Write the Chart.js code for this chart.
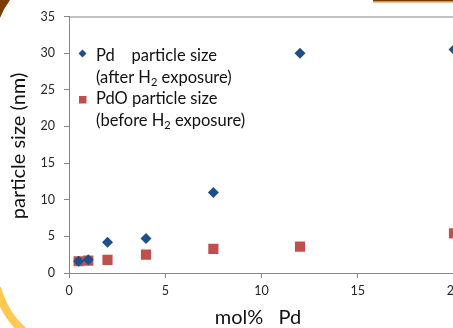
<!DOCTYPE html>
<html><head><meta charset="utf-8">
<script src="https://cdn.jsdelivr.net/npm/chart.js@4"></script>
<style>html,body{margin:0;padding:0;overflow:hidden;background:#fff;width:453px;height:328px}canvas{display:block}</style>
</head><body>
<canvas id="c" width="480" height="328" style="width:480px;height:328px"></canvas>
<script>
const pdX = [0.5, 1, 2, 4, 7.5, 12, 20];
const pdY = [1.6, 1.8, 4.2, 4.7, 11.0, 30.0, 30.5];
const pdoX = [0.5, 1, 2, 4, 7.5, 12, 20];
const pdoY = [1.6, 1.7, 1.8, 2.5, 3.3, 3.6, 5.4];
const xTicks = [0, 5, 10, 15, 20];
const yTicks = [0, 5, 10, 15, 20, 25, 30, 35];
const legendLines = [
  ['Pd    particle size', '(after H', '2', ' exposure)'],
  ['PdO particle size', '(before H', '2', ' exposure)']
];
const xTitle = 'mol%   Pd';
const yTitle = 'particle size (nm)';

const FONT = 'Lato, "Open Sans", sans-serif';
const BLUE = '#1F4E89', RED = '#C0504D', AXIS = '#868686';

const deco = {
  id: 'deco',
  beforeDraw(chart) {
    const c = chart.ctx;
    c.save();
    c.fillStyle = '#7A3E05';
    c.beginPath(); c.moveTo(0, 0); c.lineTo(10, 0); c.quadraticCurveTo(4, 8, 0, 18); c.closePath(); c.fill();
    c.fillRect(373, 0, 110, 1.5);
    c.fillStyle = '#D98A2E'; c.fillRect(373, 1.5, 110, 1);
    c.strokeStyle = '#FFC850'; c.lineWidth = 8;
    c.beginPath(); c.moveTo(-3, 288); c.quadraticCurveTo(6, 318, 26, 333); c.stroke();
    c.restore();
  },
  afterDraw(chart) {
    const c = chart.ctx, a = chart.chartArea;
    c.save();
    c.strokeStyle = AXIS; c.lineWidth = 1;
    c.beginPath(); c.moveTo(a.left, a.top + 0.5); c.lineTo(chart.width, a.top + 0.5); c.stroke();
    c.fillStyle = '#111';
    c.textBaseline = 'alphabetic';
    const fs = 16.5;
    const drawLine = (parts, x, y) => {
      c.font = fs + 'px ' + FONT;
      if (parts.length === 1) { c.fillText(parts[0], x, y); return; }
      c.fillText(parts[0], x, y);
      let w = c.measureText(parts[0]).width;
      c.font = Math.round(fs * 0.65) + 'px ' + FONT;
      c.fillText(parts[1], x + w, y + 3);
      w += c.measureText(parts[1]).width;
      c.font = fs + 'px ' + FONT;
      c.fillText(parts[2], x + w, y);
    };
    const tx = 96;
    drawLine([legendLines[0][0]], tx, 61);
    drawLine([legendLines[0][1], legendLines[0][2], legendLines[0][3]], tx, 83);
    drawLine([legendLines[1][0]], tx, 104);
    drawLine([legendLines[1][1], legendLines[1][2], legendLines[1][3]], tx, 126);
    c.fillStyle = BLUE;
    c.beginPath(); c.moveTo(82.5, 49.5); c.lineTo(86.5, 53.5); c.lineTo(82.5, 57.5); c.lineTo(78.5, 53.5); c.closePath(); c.fill();
    c.fillStyle = RED; c.fillRect(79, 96, 7.5, 7.5);
    c.fillStyle = '#111';
    c.font = '20px ' + FONT;
    c.textAlign = 'center';
    c.fillText(xTitle, 258, 324);
    c.translate(25, 146); c.rotate(-Math.PI / 2);
    c.fillText(yTitle, 0, 0);
    c.restore();
  }
};

new Chart(document.getElementById('c'), {
  type: 'scatter',
  data: {
    datasets: [
      { label: 'Pd', data: pdX.map((x, i) => ({ x, y: pdY[i] })), pointStyle: 'rectRot', radius: 5.5, backgroundColor: BLUE, borderColor: BLUE, borderWidth: 0 },
      { label: 'PdO', data: pdoX.map((x, i) => ({ x, y: pdoY[i] })), pointStyle: 'rect', radius: 7.2, backgroundColor: RED, borderColor: RED, borderWidth: 0 }
    ]
  },
  options: {
    responsive: false, animation: false,
    layout: { padding: { top: 16, right: 26, left: 0, bottom: 0 } },
    plugins: { legend: { display: false }, tooltip: { enabled: false } },
    scales: {
      x: {
        type: 'linear', min: 0, max: 20,
        afterBuildTicks: s => { s.ticks = xTicks.map(v => ({ value: v })); },
        afterFit: s => { s.height = 55; s.paddingLeft = 0; s.paddingRight = 0; },
        grid: { drawOnChartArea: false, drawTicks: true, tickLength: 5, tickColor: AXIS },
        border: { display: true, color: AXIS },
        ticks: { padding: 5, color: '#262626', font: { family: FONT, size: 12.5 }, maxRotation: 0, autoSkip: false }
      },
      y: {
        type: 'linear', min: 0, max: 35,
        afterBuildTicks: s => { s.ticks = yTicks.map(v => ({ value: v })); },
        afterFit: s => { s.width = 69; },
        grid: { drawOnChartArea: false, drawTicks: true, tickLength: 5, tickColor: AXIS },
        border: { display: true, color: AXIS },
        ticks: { padding: 9, color: '#262626', font: { family: FONT, size: 12.5 }, autoSkip: false }
      }
    }
  },
  plugins: [deco]
});
</script>
</body></html>
